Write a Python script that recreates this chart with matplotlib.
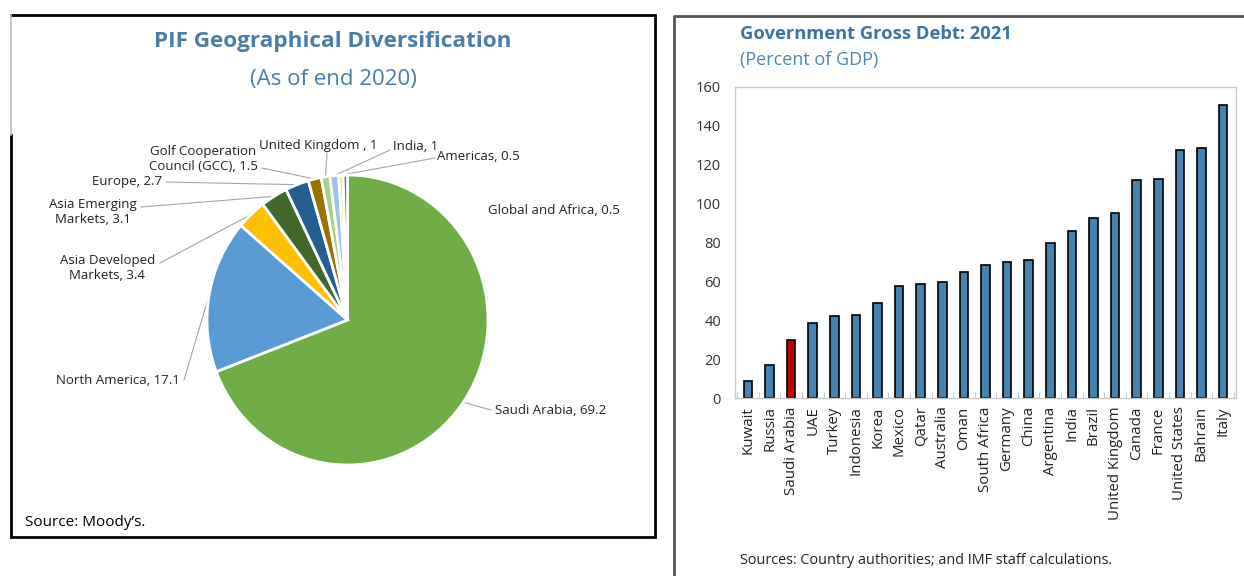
import matplotlib.pyplot as plt
import numpy as np

# PIF holdings by region (percent)
regions = ["Saudi Arabia", "North America", "Asia Developed\nMarkets", "Asia Emerging\nMarkets",
           "Europe", "Golf Cooperation\nCouncil (GCC)", "United Kingdom ", "India",
           "Americas", "Global and Africa"]
shares = [69.2, 17.1, 3.4, 3.1, 2.7, 1.5, 1, 1, 0.5, 0.5]

# Government gross debt 2021 (percent of GDP)
countries = ["Kuwait", "Russia", "Saudi Arabia", "UAE", "Turkey", "Indonesia", "Korea",
             "Mexico", "Qatar", "Australia", "Oman", "South Africa", "Germany", "China",
             "Argentina", "India", "Brazil", "United Kingdom", "Canada", "France",
             "United States", "Bahrain", "Italy"]
debt = [9, 17, 30, 38.5, 42, 42.5, 49, 57.5, 58.5, 59.5, 65, 68.5, 70, 71,
        80, 86, 92.5, 95, 112, 112.5, 127.5, 128.5, 150.5]

pie_colors = ["#70AD47", "#5B9BD5", "#FFC000", "#43682B", "#255E91",
              "#997300", "#A9D18E", "#9DC3E6", "#FFD966", "#548235"]

plt.rcParams['font.family'] = ['Open Sans', 'DejaVu Sans']

W, H = 1244, 576
fig = plt.figure(figsize=(W / 100, H / 100), dpi=100)

# full-figure axes in pixel units (y measured from the bottom)
base = fig.add_axes([0, 0, 1, 1])
base.set_xlim(0, W)
base.set_ylim(0, H)
base.axis("off")


def py(y):
    return H - y


# left frame
base.plot([11, 655, 655, 11, 11], [py(15), py(15), py(537), py(537), py(135)],
          color="black", lw=2, solid_joinstyle="miter")
base.plot([11, 11], [py(15), py(135)], color="#BBBBBB", lw=1.2)
# right frame
base.plot([674, 674, W], [0, py(16), py(16)], color="#555555", lw=2)

title_blue = "#4A7DAA"
base.text(333, py(41), "PIF Geographical Diversification", ha="center", va="center",
          fontsize=16.2, fontweight="bold", color=title_blue)
base.text(333, py(80), "(As of end 2020)", ha="center", va="center",
          fontsize=16, color=title_blue)
base.text(25, py(522), "Source: Moody\u2019s.", ha="left", va="center", fontsize=11)

# pie, slightly taller than wide
cx, cy = 347.5, py(320)
rx, ry = 140.5, 145
pie_ax = fig.add_axes([(cx - rx) / W, (cy - ry) / H, 2 * rx / W, 2 * ry / H])
wedges, _ = pie_ax.pie(shares, colors=pie_colors, startangle=90, counterclock=False,
                       radius=1, frame=True,
                       wedgeprops=dict(edgecolor="white", linewidth=2))
pie_ax.set_xlim(-1, 1)
pie_ax.set_ylim(-1, 1)
pie_ax.set_aspect("auto")
pie_ax.axis("off")

# label placement: text x, text y, alignment, leader start (or None)
label_pos = [
    (495, 410, "left", (491, 410)),
    (180, 380, "right", (184, 380)),
    (155, 268, "right", (160, 263)),
    (137, 212, "right", (141, 207)),
    (162, 181, "right", (166, 182)),
    (258, 159, "right", (262, 168)),
    (318, 146, "center", (327, 153)),
    (393, 147, "left", (390, 150)),
    (437, 156, "left", (435, 158)),
    (488, 210, "left", None),
]

for w, name, val, (tx, ty, ha, lead) in zip(wedges, regions, shares, label_pos):
    mid = np.deg2rad((w.theta1 + w.theta2) / 2)
    ex, ey = cx + rx * np.cos(mid), cy + ry * np.sin(mid)
    txt = f"{name}, {val:g}"
    base.text(tx, py(ty), txt, ha=ha, va="center", fontsize=9.5, color="#222222",
              multialignment="center", linespacing=1.2)
    if lead is not None:
        base.plot([lead[0], ex], [py(lead[1]), ey], color="#A6A6A6", lw=0.8)

# right panel titles
base.text(740, py(34), "Government Gross Debt: 2021", ha="left", va="center",
          fontsize=13.2, fontweight="bold", color="#3E74A3")
base.text(740, py(60), "(Percent of GDP)", ha="left", va="center",
          fontsize=13, color="#4F86B5")
base.text(740, py(561), "Sources: Country authorities; and IMF staff calculations.",
          ha="left", va="center", fontsize=10.4, color="#222222")

# bar chart
ax = fig.add_axes([735 / W, 178 / H, 501 / W, 311 / H])
x = np.arange(len(countries))
bar_colors = ["#C00000" if c == "Saudi Arabia" else "#4682AD" for c in countries]
ax.bar(x, debt, width=0.4, color=bar_colors, edgecolor="black", linewidth=1.2)
ax.set_xlim(-0.6, len(countries) - 0.4)
ax.set_ylim(0, 160)
ax.set_yticks(range(0, 161, 20))
ax.set_xticks(x)
ax.set_xticklabels(countries, rotation=90, fontsize=10.8, color="#222222")
ax.set_xticks(np.arange(-0.5, len(countries), 1), minor=True)
ax.tick_params(axis="x", which="major", length=0, pad=6)
ax.tick_params(axis="x", which="minor", direction="in", length=4, color="#BFBFBF")
ax.tick_params(axis="y", length=0, labelsize=10.5, labelcolor="#333333", pad=10)
for s in ax.spines.values():
    s.set_color("#C8C8C8")
    s.set_linewidth(1)

fig.savefig("out.png", dpi=100)
